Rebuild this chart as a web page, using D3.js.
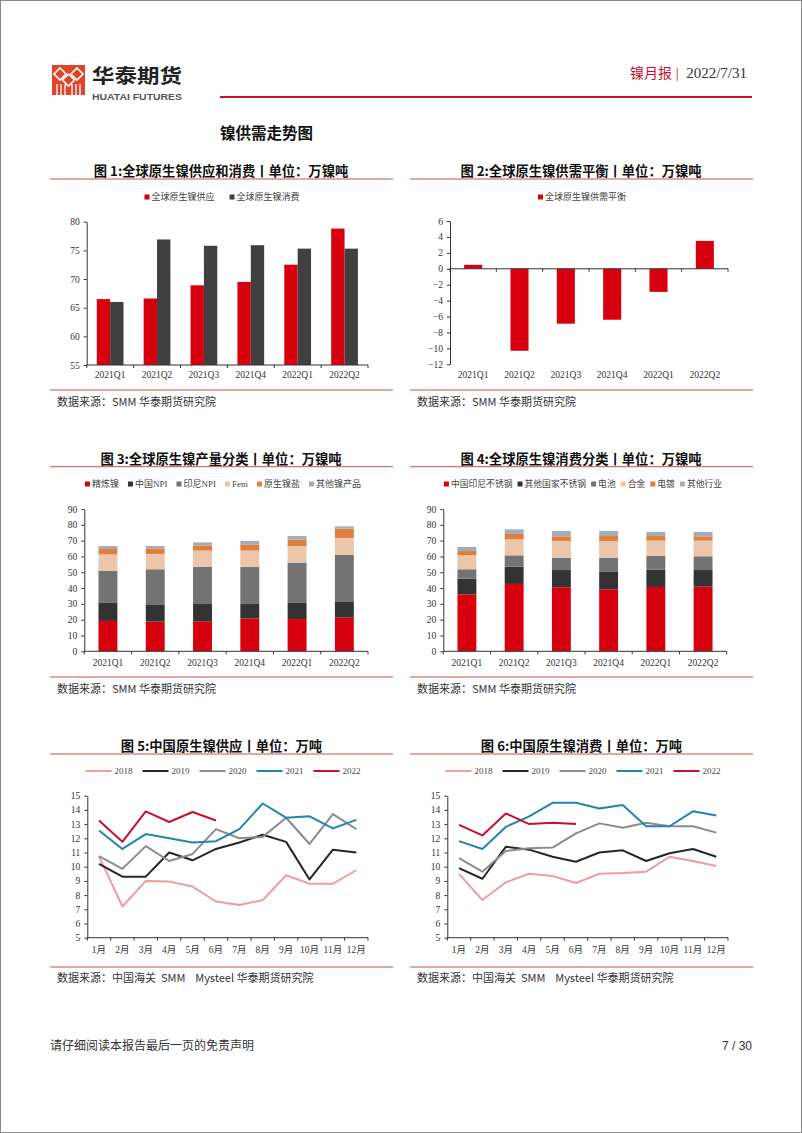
<!DOCTYPE html>
<html><head><meta charset="utf-8">
<script src="https://cdn.jsdelivr.net/npm/d3@7"></script>
<style>
body{margin:0;background:#fff;}
svg{display:block;}
</style></head><body>
<svg id="page" width="802" height="1133"></svg>
<script>
// ---------------- DATA ----------------
const quarters = ["2021Q1","2021Q2","2021Q3","2021Q4","2022Q1","2022Q2"];
const supplyDemandSeries = ["全球原生镍供应","全球原生镍消费"];
const globalSupply = [66.5,66.6,68.9,69.5,72.5,78.8];
const globalConsumption = [66.0,76.9,75.8,75.9,75.3,75.3];
const ticks1 = [55,60,65,70,75,80];

const balanceSeries = ["全球原生镍供需平衡"];
const balance = [0.5,-10.3,-6.9,-6.4,-2.9,3.5];
const ticks2 = [-12,-10,-8,-6,-4,-2,0,2,4,6];

const productionSeries = ["精炼镍","中国NPI","印尼NPI","Feni","原生镍盐","其他镍产品"];
const refined = [19.2,18.8,19.0,20.7,20.4,21.3];
const chinaNPI = [11.4,10.5,10.9,9.2,10.2,10.3];
const indoNPI = [20.4,22.6,23.6,23.4,25.5,29.3];
const feni = [10.3,9.7,10.2,10.4,10.5,10.8];
const nickelSalt = [3.4,3.5,3.1,3.8,4.0,5.9];
const otherProducts = [1.9,1.5,2.1,2.3,2.3,1.4];

const consumptionSeries = ["中国印尼不锈钢","其他国家不锈钢","电池","合金","电镀","其他行业"];
const ciStainless = [36.0,42.6,40.5,39.2,40.7,40.9];
const otherStainless = [10.0,10.9,10.9,11.0,10.9,10.5];
const battery = [5.9,7.2,7.8,9.0,8.7,8.7];
const alloy = [9.0,10.1,10.6,10.6,9.7,9.9];
const plating = [2.5,3.4,2.9,3.1,2.9,2.7];
const otherIndustry = [2.6,2.9,3.4,3.2,2.6,2.8];
const ticks34 = [0,10,20,30,40,50,60,70,80,90];

const months = ["1月","2月","3月","4月","5月","6月","7月","8月","9月","10月","11月","12月"];
const years = ["2018","2019","2020","2021","2022"];
const cnSupply2018 = [10.75,7.2,9.0,8.95,8.6,7.55,7.3,7.65,9.4,8.8,8.8,9.75];
const cnSupply2019 = [10.2,9.3,9.3,11.0,10.45,11.25,11.7,12.25,11.75,9.1,11.2,11.0];
const cnSupply2020 = [10.75,9.85,11.45,10.4,10.9,12.65,12.0,12.1,13.45,11.6,13.7,12.65];
const cnSupply2021 = [12.55,11.25,12.3,12.0,11.7,11.8,12.65,14.45,13.45,13.55,12.7,13.3];
const cnSupply2022 = [13.25,11.75,13.9,13.15,13.85,13.25];
const cnCons2018 = [9.5,7.65,8.9,9.5,9.35,8.85,9.5,9.55,9.65,10.7,10.4,10.05];
const cnCons2019 = [9.9,9.15,11.4,11.2,10.7,10.35,11.0,11.15,10.4,10.95,11.25,10.7];
const cnCons2020 = [10.6,9.65,11.1,11.3,11.35,12.35,13.05,12.75,13.1,12.85,12.85,12.4];
const cnCons2021 = [11.8,11.25,12.8,13.55,14.5,14.5,14.1,14.35,12.85,12.85,13.9,13.6];
const cnCons2022 = [12.95,12.2,13.75,13.0,13.1,13.0];
const ticks56 = [5,6,7,8,9,10,11,12,13,14,15];

// ---------------- STYLE ----------------
const RED = "#d7000f", DARK = "#404040";
const stackColors = ["#d7000f","#333333","#737373","#ebc6aa","#e07e3c","#a4acb8"];
const lineColors = ["#f39aa0","#262626","#8c8c8c","#1f86b0","#c8102e"];
const SERIF = "'Liberation Serif','Noto Sans CJK SC',serif";
const SANS = "'Noto Sans CJK SC','Noto Sans',sans-serif";
const LINE_RED = "#c8504d";

const svg = d3.select("#page");
svg.append("rect").attr("x",0.5).attr("y",0.5).attr("width",801).attr("height",1132)
  .attr("fill","#fff").attr("stroke","#8a8a8a").attr("stroke-width",1);

// ---------------- HEADER ----------------
const logo = svg.append("g");
logo.append("rect").attr("x",52).attr("y",65).attr("width",33).attr("height",30).attr("fill","#e0442a");
[[60,74],[77,74],[68.5,80]].forEach(([cx,cy])=>{
  logo.append("path").attr("d",`M${cx},${cy-6}L${cx+6},${cy}L${cx},${cy+6}L${cx-6},${cy}Z`)
    .attr("fill","none").attr("stroke","#fff").attr("stroke-width",1.6);
});
[57,61,65,72,76,80].forEach(x=>{
  logo.append("line").attr("x1",x).attr("x2",x).attr("y1",84).attr("y2",95).attr("stroke","#fff").attr("stroke-width",1.3);
});
svg.append("text").attr("x",92).attr("y",83).text("华泰期货")
  .attr("font-family",SANS).attr("font-weight",700).attr("font-size",19.5).attr("fill","#222")
  .attr("textLength",90).attr("lengthAdjust","spacingAndGlyphs");
svg.append("text").attr("x",92).attr("y",99.5).text("HUATAI FUTURES")
  .attr("font-family","'Liberation Sans',Arial,sans-serif").attr("font-weight",700).attr("font-size",9.5).attr("fill","#555")
  .attr("textLength",90).attr("lengthAdjust","spacingAndGlyphs");
const hdr = svg.append("text").attr("x",747).attr("y",78).attr("text-anchor","end")
  .attr("font-family",SERIF).attr("font-size",15).attr("xml:space","preserve").style("white-space","pre");
hdr.append("tspan").text("镍月报").attr("fill","#c8102e").attr("font-family",SANS).attr("font-size",14);
hdr.append("tspan").text(" | ").attr("fill","#c8102e");
hdr.append("tspan").text(" 2022/7/31").attr("fill","#333");
svg.append("line").attr("x1",220).attr("x2",752).attr("y1",97).attr("y2",97).attr("stroke","#c8102e").attr("stroke-width",2);
svg.append("text").attr("x",220).attr("y",139).text("镍供需走势图")
  .attr("font-family",SANS).attr("font-weight",700).attr("font-size",15.5).attr("fill","#111");

// ---------------- FOOTER ----------------
svg.append("text").attr("x",50).attr("y",1050).text("请仔细阅读本报告最后一页的免责声明")
  .attr("font-family",SANS).attr("font-size",12).attr("fill","#333");
svg.append("text").attr("x",752).attr("y",1050).attr("text-anchor","end").text("7 / 30")
  .attr("font-family","'Liberation Sans',sans-serif").attr("font-size",12).attr("fill","#333");

// ---------------- HELPERS ----------------
function panelFrame(o){
  svg.append("text").attr("x",o.cx).attr("y",o.titleY).attr("text-anchor","middle").text(o.title)
    .attr("font-family",SANS).attr("font-weight",700).attr("font-size",13.3).attr("fill","#111")
    .attr("dominant-baseline","central").attr("xml:space","preserve").style("white-space","pre");
  svg.append("line").attr("x1",o.lx0).attr("x2",o.lx1).attr("y1",o.ulY).attr("y2",o.ulY)
    .attr("stroke",LINE_RED).attr("stroke-width",1);
  svg.append("line").attr("x1",o.lx0).attr("x2",o.lx1).attr("y1",o.srcLineY).attr("y2",o.srcLineY)
    .attr("stroke",LINE_RED).attr("stroke-width",1);
  svg.append("text").attr("x",o.lx0+7).attr("y",o.srcY).text(o.source)
    .attr("font-family",SANS).attr("font-size",11).attr("fill","#333").attr("dominant-baseline","central")
    .attr("xml:space","preserve").style("white-space","pre");
}

function legend(cx, y, names, colors, kind, gap, fs){
  const g = svg.append("g");
  let x = 0;
  names.forEach((n,i)=>{
    if(kind==="square"){
      g.append("rect").attr("x",x).attr("y",y-2.5).attr("width",5).attr("height",5).attr("fill",colors[i]);
      x += 7;
    } else {
      g.append("line").attr("x1",x).attr("x2",x+26).attr("y1",y).attr("y2",y)
        .attr("stroke",colors[i]).attr("stroke-width",2);
      x += 29;
    }
    const t = g.append("text").attr("x",x).attr("y",y).text(n).attr("dominant-baseline","central")
      .attr("font-family",SERIF).attr("font-size",fs).attr("fill","#444");
    x += t.node().getComputedTextLength() + gap;
  });
  const w = x - gap;
  g.attr("transform",`translate(${cx - w/2},0)`);
}

function yAxis(y, x0, ticks){
  const g = svg.append("g").attr("transform",`translate(${x0},0)`)
    .call(d3.axisLeft(y).tickValues(ticks).tickSize(3).tickSizeOuter(0).tickPadding(4).tickFormat(d3.format("d")));
  g.select(".domain").attr("stroke","#333");
  g.selectAll(".tick line").attr("stroke","#333");
  g.selectAll("text").attr("font-family",SERIF).attr("font-size",9.5).attr("fill","#333");
}

function xCatAxis(cats, x0, x1, lineY, labelY){
  const band = d3.scaleBand().domain(cats).range([x0,x1]);
  svg.append("line").attr("x1",x0).attr("x2",x1).attr("y1",lineY).attr("y2",lineY).attr("stroke","#333");
  const bounds = cats.map(c=>band(c)).concat([x1]);
  svg.append("g").selectAll("line").data(bounds).join("line")
    .attr("x1",d=>d).attr("x2",d=>d).attr("y1",lineY).attr("y2",lineY+3).attr("stroke","#333");
  svg.append("g").selectAll("text").data(cats).join("text")
    .attr("x",d=>band(d)+band.bandwidth()/2).attr("y",labelY).attr("text-anchor","middle")
    .attr("dominant-baseline","central").text(d=>d)
    .attr("font-family",SERIF).attr("font-size",9.5).attr("fill","#333");
  return band;
}

// ---------------- CHART 1 ----------------
(function(){
  const X0=86.7, X1=368, YT=221.7, YB=365;
  panelFrame({cx:221,titleY:170,title:"图 1:全球原生镍供应和消费丨单位：万镍吨",lx0:50,lx1:393,ulY:179,srcLineY:390,srcY:401,source:"数据来源：SMM 华泰期货研究院"});
  legend(222,197,supplyDemandSeries,[RED,DARK],"square",15,9);
  const y = d3.scaleLinear().domain([55,80]).range([YB,YT]);
  const x = d3.scaleBand().domain(quarters).range([X0,X1]).paddingInner(0.43).paddingOuter(0.215);
  const xs = d3.scaleBand().domain(supplyDemandSeries).range([0,x.bandwidth()]);
  const vals = [globalSupply, globalConsumption];
  const colors = [RED, DARK];
  vals.forEach((arr,si)=>{
    svg.append("g").selectAll("rect").data(quarters).join("rect")
      .attr("x",(d)=>x(d)+xs(supplyDemandSeries[si])).attr("width",xs.bandwidth())
      .attr("y",(d,i)=>y(arr[i])).attr("height",(d,i)=>YB-y(arr[i])).attr("fill",colors[si]);
  });
  yAxis(y,X0,ticks1);
  xCatAxis(quarters,X0,X1,YB,375);
})();

// ---------------- CHART 2 ----------------
(function(){
  const X0=450, X1=728, YT=221, YB=364.3;
  panelFrame({cx:581,titleY:170,title:"图 2:全球原生镍供需平衡丨单位：万镍吨",lx0:410,lx1:753,ulY:179,srcLineY:390,srcY:401,source:"数据来源：SMM 华泰期货研究院"});
  legend(582,197,balanceSeries,[RED],"square",15,9);
  const y = d3.scaleLinear().domain([-12,6]).range([YB,YT]);
  const x = d3.scaleBand().domain(quarters).range([X0,X1]).paddingInner(0.61).paddingOuter(0.305);
  svg.append("g").selectAll("rect").data(quarters).join("rect")
    .attr("x",d=>x(d)).attr("width",x.bandwidth())
    .attr("y",(d,i)=>y(Math.max(0,balance[i]))).attr("height",(d,i)=>Math.abs(y(balance[i])-y(0)))
    .attr("fill",RED);
  yAxis(y,X0,ticks2);
  xCatAxis(quarters,X0,X1,y(0),375);
})();

// ---------------- STACKED CHARTS ----------------
function stacked(o){
  panelFrame(o.frame);
  legend(o.legendCx,484,o.series,stackColors,"square",o.gap,o.fs);
  const YT=509, YB=651.3;
  const y = d3.scaleLinear().domain([0,90]).range([YB,YT]);
  const x = d3.scaleBand().domain(quarters).range([o.X0,o.X1]).paddingInner(0.6).paddingOuter(0.3);
  const rows = quarters.map((q,i)=>{ const r={q}; o.series.forEach((s,k)=>r[s]=o.values[k][i]); return r; });
  const st = d3.stack().keys(o.series)(rows);
  svg.append("g").selectAll("g").data(st).join("g").attr("fill",(d,k)=>stackColors[k])
    .selectAll("rect").data(d=>d).join("rect")
    .attr("x",d=>x(d.data.q)).attr("width",x.bandwidth())
    .attr("y",d=>y(d[1])).attr("height",d=>y(d[0])-y(d[1]));
  yAxis(y,o.X0,ticks34);
  xCatAxis(quarters,o.X0,o.X1,YB,662.7);
}
stacked({X0:84.3,X1:368,legendCx:223,gap:9,fs:9,series:productionSeries,
  values:[refined,chinaNPI,indoNPI,feni,nickelSalt,otherProducts],
  frame:{cx:221,titleY:458,title:"图 3:全球原生镍产量分类丨单位：万镍吨",lx0:50,lx1:393,ulY:466.7,srcLineY:677,srcY:688,source:"数据来源：SMM 华泰期货研究院"}});
stacked({X0:443.3,X1:726.7,legendCx:583,gap:5,fs:8.8,series:consumptionSeries,
  values:[ciStainless,otherStainless,battery,alloy,plating,otherIndustry],
  frame:{cx:581,titleY:458,title:"图 4:全球原生镍消费分类丨单位：万镍吨",lx0:410,lx1:753,ulY:466.7,srcLineY:677,srcY:688,source:"数据来源：SMM 华泰期货研究院"}});

// ---------------- LINE CHARTS ----------------
function lines(o){
  panelFrame(o.frame);
  legend(o.legendCx,771,years,lineColors,"line",10,9);
  const YT=795.7, YB=937.7;
  const y = d3.scaleLinear().domain([5,15]).range([YB,YT]);
  const x = d3.scalePoint().domain(months).range([o.X0,o.X1]).padding(0.5);
  const line = d3.line().x((d,i)=>x(months[i])).y(d=>y(d));
  o.values.forEach((arr,k)=>{
    svg.append("path").datum(arr).attr("d",line).attr("fill","none")
      .attr("stroke",lineColors[k]).attr("stroke-width",2).attr("stroke-linejoin","round");
  });
  yAxis(y,o.X0,ticks56);
  xCatAxis(months,o.X0,o.X1,YB,950);
}
lines({X0:87.3,X1:368,legendCx:223,values:[cnSupply2018,cnSupply2019,cnSupply2020,cnSupply2021,cnSupply2022],
  frame:{cx:221.5,titleY:745,title:"图 5:中国原生镍供应丨单位：万吨",lx0:50,lx1:393,ulY:754,srcLineY:967,srcY:977,source:"数据来源：中国海关  SMM    Mysteel 华泰期货研究院"}});
lines({X0:447.3,X1:728,legendCx:583,values:[cnCons2018,cnCons2019,cnCons2020,cnCons2021,cnCons2022],
  frame:{cx:581.5,titleY:745,title:"图 6:中国原生镍消费丨单位：万吨",lx0:410,lx1:753,ulY:754,srcLineY:967,srcY:977,source:"数据来源：中国海关  SMM    Mysteel 华泰期货研究院"}});
</script>
</body></html>
